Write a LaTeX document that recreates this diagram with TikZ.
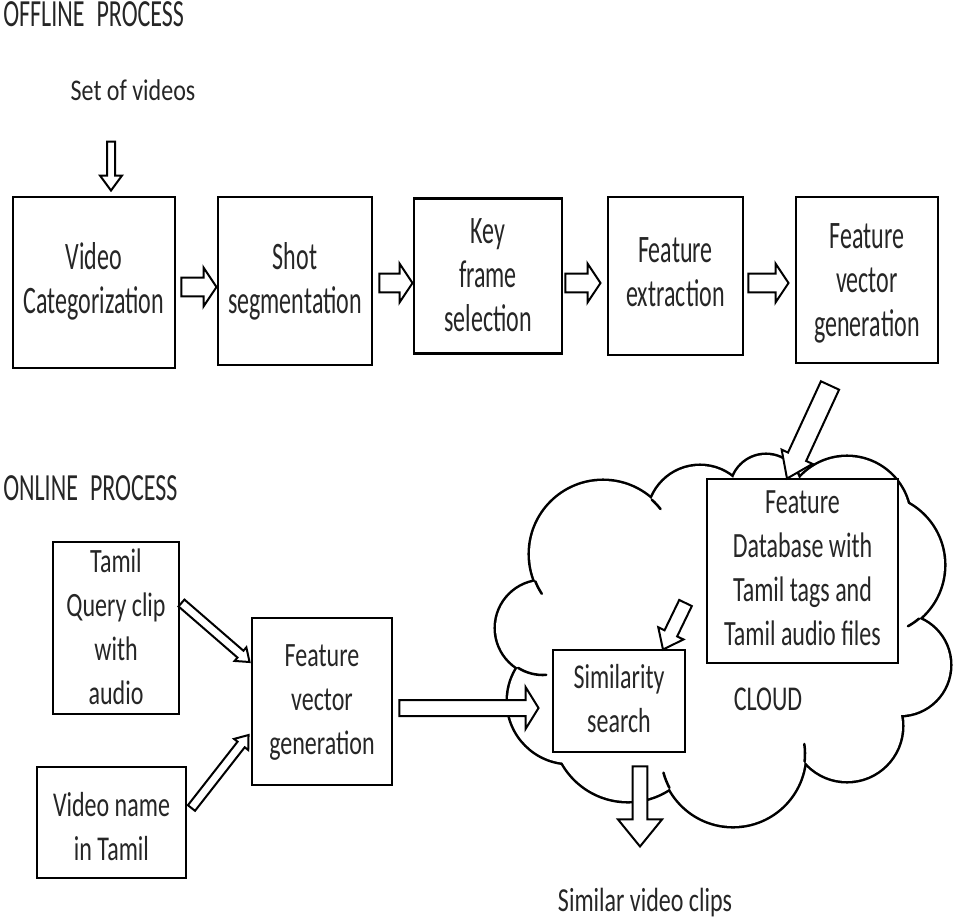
\documentclass[tikz,border=0pt]{standalone}
\usepackage{fontspec}
\setmainfont{Carlito}
\usepackage{graphicx}
\usetikzlibrary{calc}

% label text: condensed look, fixed line pitch of 33pt after stretching
\newcommand\tx[2][1.5]{%
  \pgfmathsetmacro\txbs{33/#1}%
  \scalebox{1}[#1]{\fontsize{18}{\txbs pt}\selectfont
    \begin{tabular}{@{}c@{}}#2\end{tabular}}}

% hollow block arrow: tail, tip, shaft half-width, head half-width, head length
\newcommand\blockarrow[5]{%
  \coordinate (ba-base) at ($(#2)!#5!(#1)$);
  \draw[barrow] ($(#1)!#3!90:(#2)$) -- ($(ba-base)!#3!90:(#2)$)
    -- ($(ba-base)!#4!90:(#2)$) -- (#2) -- ($(ba-base)!#4!-90:(#2)$)
    -- ($(ba-base)!#3!-90:(#2)$) -- ($(#1)!#3!-90:(#2)$) -- cycle;}

\begin{document}
\begin{tikzpicture}[x=0.75pt,y=-0.75pt,
  box/.style={draw=black, line width=2.2pt, fill=white, inner sep=0pt},
  sz/.style 2 args={minimum width=#1*0.75pt, minimum height=#2*0.75pt},
  lbl/.style={inner sep=0pt, text=black!85},
  barrow/.style={draw=black, line width=1.5pt, fill=white, line join=miter},
  puff/.style={draw=black, line width=3.8pt},
  crease/.style={draw=black, line width=1.9pt, line cap=round},
]
\fill[white] (0,0) rectangle (953,922);
\useasboundingbox (0,0) rectangle (953,922);

% ---------- cloud: union of puffs ----------
\def\puffs{543/628/47, 603/554/73, 700/518/52, 766/490/35, 847/520/63,
  874/565/70, 900/665/50, 847/726/55, 733/754/72, 628/726/75, 570/701/62}
\foreach \cx/\cy/\r in \puffs \draw[puff] (\cx,\cy) circle[radius=\r];
\foreach \cx/\cy/\r in \puffs \fill[white] (\cx,\cy) circle[radius=\r];
\fill[white] (543,628) -- (603,554) -- (700,518) -- (766,490) -- (847,520)
  -- (874,565) -- (900,665) -- (847,726) -- (733,754) -- (628,726)
  -- (570,701) -- cycle;
% inner crease strokes
\draw[crease] (603,554) ++(158:73) arc[start angle=158, end angle=147, radius=73];
\draw[crease] (603,554) ++(-48:73) arc[start angle=-48, end angle=-38, radius=73];
\draw[crease] (543,628) ++(122:47) arc[start angle=122, end angle=86, radius=47];
\draw[crease] (874,565) ++(50:70) arc[start angle=50, end angle=61, radius=70];
\draw[crease] (733,754) ++(6:72) arc[start angle=6, end angle=-8, radius=72];
\draw[crease] (733,754) ++(152:72) arc[start angle=152, end angle=165, radius=72];

% ---------- boxes ----------
\node[box, sz={162}{171}] (vc)   at (94,282.5)  {};
\node[box, sz={154}{168}] (shot) at (295,281)   {};
\node[box, sz={148}{155}] (key)  at (488,276)   {};
\node[box, sz={135}{158}] (fe)   at (675.5,276) {};
\node[box, sz={142}{166}] (fvg)  at (867,280)   {};
\node[box, sz={126}{172}] (tq)   at (116,628)   {};
\node[box, sz={149}{111}] (vn)   at (111.5,822.5) {};
\node[box, sz={140}{167}] (fvgo) at (322,701.5) {};
\node[box, sz={191}{184}] (db)   at (802.5,571) {};
\node[box, sz={132}{102}] (sim)  at (619,701)   {};

% ---------- texts ----------
\node[lbl, anchor=west] (offl) at (3,18)  {\tx[1.6]{OFFLINE\hspace{0.5em}PROCESS}};
\node[lbl, anchor=west] (onl)  at (3,492) {\tx[1.6]{ONLINE\hspace{0.5em}PROCESS}};
\node[lbl] (set) at (133,92) {\tx[1.25]{Set of videos}};
\node[lbl] (vc-t)   at (94,283)    {\tx[1.62]{Video\\Categorization}};
\node[lbl] (shot-t) at (295,283)   {\tx[1.62]{Shot\\segmentation}};
\node[lbl] (key-t)  at (488,279)   {\tx[1.62]{Key\\frame\\selection}};
\node[lbl] (fe-t)   at (675.5,276) {\tx[1.62]{Feature\\extraction}};
\node[lbl] (fvg-t)  at (867,284)   {\tx[1.62]{Feature\\vector\\generation}};
\node[lbl] (tq-t)   at (116,630)   {\tx[1.42]{Tamil\\Query clip\\with\\audio}};
\node[lbl] (vn-t)   at (111.5,830) {\tx[1.45]{Video name\\in Tamil}};
\node[lbl] (fvgo-t) at (322,702)   {\tx[1.42]{Feature\\vector\\generation}};
\node[lbl] (db-t)   at (802.5,571) {\tx[1.48]{Feature\\Database with\\Tamil tags and\\Tamil audio files}};
\node[lbl] (sim-t)  at (619,702)   {\tx[1.45]{Similarity\\search}};
\node[lbl] (cloud-t) at (768,702)  {\tx[1.45]{CLOUD}};
\node[lbl] (clips)  at (645,903)   {\tx[1.4]{Similar video clips}};

% ---------- arrow end points ----------
\coordinate (a0t) at ($(vc.north)+(17,-54)$);
\coordinate (a0h) at ($(vc.north)+(17,-5)$);
\coordinate (a1t) at ($(vc.east)+(5,4.5)$);
\coordinate (a1h) at (shot.west |- a1t);
\coordinate (a2t) at ($(shot.east)+(6,2)$);
\coordinate (a2h) at (key.west |- a2t);
\coordinate (a3t) at ($(key.east)+(2,7)$);
\coordinate (a3h) at ($(fe.west |- a3t)+(-6,0)$);
\coordinate (a4t) at ($(fe.east)+(4,7)$);
\coordinate (a4h) at ($(fvg.west |- a4t)+(-6,0)$);
\coordinate (a5t) at ($(fvg.south)+(-37,21)$);
\coordinate (a5h) at ($(db.north)+(-15.5,1)$);
\coordinate (a6t) at ($(db.west)+(-20,32)$);
\coordinate (a6h) at ($(sim.north)+(44,1)$);
\coordinate (a7t) at ($(fvgo.east)+(6,6.5)$);
\coordinate (a7h) at ($(sim.west |- a7t)+(-13,0)$);
\coordinate (a8t) at ($(sim.south)+(21,13)$);
\coordinate (a8h) at ($(a8t)+(0,80)$);
\coordinate (a9t) at ($(tq.east)+(1,-25)$);
\coordinate (a9h) at ($(fvgo.west)+(-1,-39.5)$);
\coordinate (a10t) at ($(vn.east)+(4,-14.5)$);
\coordinate (a10h) at ($(fvgo.west)+(-2,33.5)$);

% ---------- block arrows ----------
\blockarrow{a0t}{a0h}{3pt}{8.25pt}{11.25pt}
\blockarrow{a1t}{a1h}{7.1pt}{14.6pt}{9.75pt}
\blockarrow{a2t}{a2h}{7.1pt}{14.6pt}{9.75pt}
\blockarrow{a3t}{a3h}{7.1pt}{14.6pt}{9.75pt}
\blockarrow{a4t}{a4h}{7.1pt}{14.6pt}{9.75pt}
\blockarrow{a5t}{a5h}{7.5pt}{12.75pt}{18pt}
\blockarrow{a6t}{a6h}{5.25pt}{10.5pt}{13.5pt}
\blockarrow{a7t}{a7h}{6pt}{15.75pt}{9.75pt}
\blockarrow{a8t}{a8h}{5.6pt}{16.5pt}{20.25pt}
\blockarrow{a9t}{a9h}{3.4pt}{6.75pt}{9pt}
\blockarrow{a10t}{a10h}{3.4pt}{6.75pt}{9pt}
\end{tikzpicture}
\end{document}
